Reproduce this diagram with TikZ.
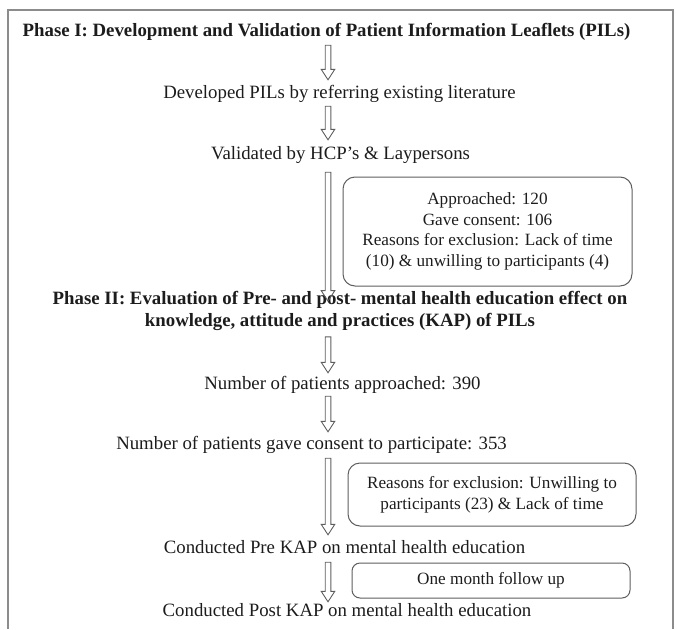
\documentclass[tikz,border=0pt]{standalone}
\usepackage{fontspec}
\setmainfont{Liberation Serif}
\usetikzlibrary{calc}

\definecolor{framegray}{HTML}{8C8C8C}
\definecolor{linegray}{HTML}{5E5E5E}
\definecolor{inkblack}{HTML}{1C1C1C}

\newcommand{\mainsize}{\fontsize{18.8}{22}\selectfont}
\newcommand{\notesize}{\fontsize{17.2}{20.7}\selectfont}

\tikzset{
  stage/.style={inner sep=0pt, text height=13pt, text depth=4pt,
    font=\mainsize, text=inkblack},
  phase/.style={inner sep=0pt, align=center, font=\mainsize\bfseries,
    text=inkblack},
  notebox/.style={draw=linegray, line width=1pt, rounded corners=12pt,
    align=center, inner sep=0pt, font=\notesize, text=inkblack},
  % hollow block arrow; #1 gap below the start, #2 gap above the target
  hollowarrow/.style 2 args={draw=linegray, line width=0.9pt,
    to path={let \p1=(\tikztostart), \p2=(\tikztotarget) in
      (\x1-2.8pt,\y1-#1) -- (\x1-2.8pt,\y2+#2+10.5pt) -- (\x1-6.8pt,\y2+#2+10.5pt)
      -- (\x1,\y2+#2) -- (\x1+6.8pt,\y2+#2+10.5pt) -- (\x1+2.8pt,\y2+#2+10.5pt)
      -- (\x1+2.8pt,\y1-#1) -- cycle}},
}

\begin{document}
\begin{tikzpicture}[x=1pt, y=-1pt]
\useasboundingbox (0,0) rectangle (677,629);

% outer frame, open at the bottom
\draw[framegray, line width=1.3pt] (8,629) -- (8,10) -- (673,10) -- (673,629);

\coordinate (spine) at (328,0);

% phase I
\node[stage, font=\mainsize\bfseries] (ph1) at (326.5,32)
  {Phase I: Development and Validation of Patient Information Leaflets (PILs)};
\node[stage] (dev) at (339.5,94) {Developed PILs by referring existing literature};
\node[stage] (val) at (340.5,155) {Validated by HCP's \& Laypersons};
\node[notebox, minimum width=289pt, minimum height=109pt] (note1) at (487.5,231.5)
  {Approached: 120\\Gave consent: 106\\Reasons for exclusion: Lack of time\\
   (10) \& unwilling to participants (4)};

% phase II
\node[phase] (ph2) at (340,311)
  {Phase II: Evaluation of Pre- and post- mental health education effect on\\
   knowledge, attitude and practices (KAP) of PILs};
\node[stage] (appr) at (342.5,385) {Number of patients approached: 390};
\node[stage] (cons) at (311.5,445) {Number of patients gave consent to participate: 353};
\node[notebox, minimum width=288pt, minimum height=63pt] (note2) at (492,494.5)
  {Reasons for exclusion: Unwilling to\\participants (23) \& Lack of time};
\node[stage] (pre) at (344.5,549) {Conducted Pre KAP on mental health education};
\node[notebox, rounded corners=8pt, minimum width=278pt, minimum height=35pt]
  (note3) at (491,580.5) {One month follow up};
\node[stage] (post) at (347,612) {Conducted Post KAP on mental health education};

% block arrows down the spine
\draw[hollowarrow={4.5pt}{5.5pt}] (ph1.south -| spine) to (dev.north -| spine);
\draw[hollowarrow={3.5pt}{6.5pt}] (dev.south -| spine) to (val.north -| spine);
\draw[hollowarrow={8.5pt}{-10pt}] (val.south -| spine) to (ph2.north -| spine);
\draw[hollowarrow={6pt}{3.5pt}] (ph2.south -| spine) to (appr.north -| spine);
\draw[hollowarrow={2.5pt}{4.5pt}] (appr.south -| spine) to (cons.north -| spine);
\draw[hollowarrow={4.5pt}{5.5pt}] (cons.south -| spine) to (pre.north -| spine);
\draw[hollowarrow={4.5pt}{1.5pt}] (pre.south -| spine) to (post.north -| spine);
\end{tikzpicture}
\end{document}
